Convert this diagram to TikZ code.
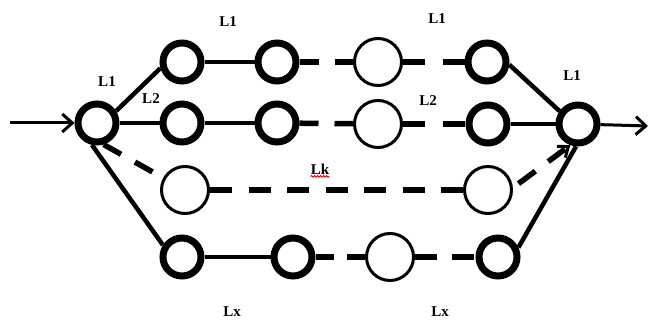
\documentclass[tikz,border=0pt]{standalone}
\usepackage{fontspec}
\setmainfont{Liberation Serif}
\usetikzlibrary{arrows.meta,decorations.pathmorphing}
\begin{document}
\begin{tikzpicture}[x=1pt,y=-1pt,
  thicknode/.style={circle, draw, line width=7pt, minimum size=38pt, inner sep=0pt},
  thinnode/.style={circle, draw, line width=3pt, minimum size=47pt, inner sep=0pt},
  conn/.style={line width=4.5pt},
  dsh/.style={line width=5.5pt},
  lbl/.style={font=\bfseries\fontsize{15}{15}\selectfont, inner sep=0pt},
  io/.style={line width=3pt, -{Straight Barb[length=10pt,width=18pt]}}
]
\fill[white] (0,0) rectangle (650,320);
\useasboundingbox (0,0) rectangle (650,320);

% nodes
\node[thicknode] (ln) at (97,123) {};
\node[thicknode] (c11) at (182,62) {};
\node[thicknode] (c12) at (277,62) {};
\node[thinnode]  (c13) at (378,62) {};
\node[thicknode] (c14) at (487,62) {};
\node[thicknode] (c21) at (182,123) {};
\node[thicknode] (c22) at (277,123) {};
\node[thinnode]  (c23) at (378,124) {};
\node[thicknode] (c24) at (488,124) {};
\node[thinnode]  (c31) at (185,190) {};
\node[thinnode]  (c32) at (488,190) {};
\node[thicknode] (c41) at (182,257) {};
\node[thicknode] (c42) at (293,257) {};
\node[thinnode]  (c43) at (390,257) {};
\node[thicknode] (c44) at (498,257) {};
\node[thicknode] (rn) at (578,124) {};

\coordinate (in) at (10,123);
\coordinate (out) at (648,126);

% input / output
\draw[io] (in) -- (ln);
\draw[io] (rn) -- (out);

% left fan
\draw[conn] (ln.32) -- (c11.196);
\draw[conn] (ln) -- (c21);
\draw[dsh, dash pattern=on 20pt off 16pt] (ln.287) -- (c31.151);
\draw[conn] (ln.257) -- (c41.148);

% rows
\draw[conn] (c11) -- (c12);
\draw[dsh, dash pattern=on 19pt off 16pt] (c12) -- (c13);
\draw[dsh, dash pattern=on 22pt off 18pt] (c13) -- (c14);
\draw[conn] (c21) -- (c22);
\draw[dsh, dash pattern=on 19pt off 16pt] (c22) -- (c23);
\draw[dsh, dash pattern=on 22pt off 18pt] (c23) -- (c24);
\draw[dsh, dash pattern=on 22pt off 16.5pt] (c31) -- (c32);
\draw[conn] (c41) -- (c42);
\draw[dsh, dash pattern=on 18pt off 13pt] (c42) -- (c43);
\draw[dsh, dash pattern=on 22pt off 15pt] (c43) -- (c44);

% right fan
\draw[conn] (c14.353) -- (rn.145);
\draw[conn] (c24) -- (rn);
\draw[dsh, dash pattern=on 21pt off 16pt, dash phase=30pt,
      -{Straight Barb[length=9pt,width=14pt,line width=3pt]}] (c32.5) -- (rn.250);
\draw[conn] (c44.25) -- (rn.265);

% labels
\node[lbl] (l1a) at (228,22) {L1};
\node[lbl] (l1b) at (107,82) {L1};
\node[lbl] (l2a) at (151,99) {L2};
\node[lbl] (l1c) at (437,19) {L1};
\node[lbl] (l2b) at (428,101) {L2};
\node[lbl] (l1d) at (572,76) {L1};
\node[lbl] (lk) at (320,169) {Lk};
\node[lbl] (lxa) at (232,312) {Lx};
\node[lbl] (lxb) at (440,312) {Lx};
\draw[red, line width=1pt, decorate, decoration={snake, amplitude=0.8pt, segment length=3pt}]
  ([yshift=-2pt]lk.south west) -- ([yshift=-2pt]lk.south east);
\end{tikzpicture}
\end{document}
